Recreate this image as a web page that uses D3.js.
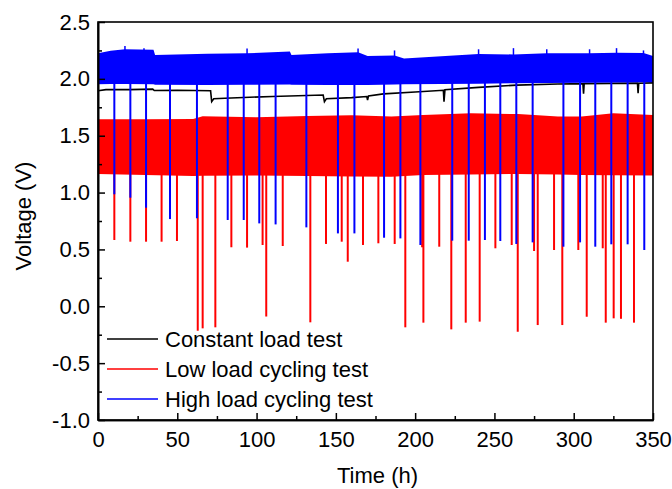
<!DOCTYPE html>
<html>
<head>
<meta charset="utf-8">
<script src="https://cdn.jsdelivr.net/npm/d3@7"></script>
<style>
  body { margin: 0; background: #fff; }
  text { font-family: Arial, "Liberation Sans", sans-serif; fill: #000; }
</style>
</head>
<body>
<svg id="chart"></svg>
<script>
// envelope of the dense low load cycling band (red)
const redTime = [0, 30, 60, 66, 100, 132, 160, 185, 205, 235, 265, 290, 305, 325, 350];
const redTop = [1.645, 1.645, 1.648, 1.672, 1.662, 1.673, 1.68, 1.668, 1.682, 1.697, 1.69, 1.668, 1.67, 1.697, 1.682];
const redBottom = [1.163, 1.155, 1.146, 1.148, 1.15, 1.145, 1.142, 1.14, 1.155, 1.16, 1.163, 1.158, 1.155, 1.152, 1.15];

// envelope of the high load cycling band (blue)
const blueTime = [0, 8, 17, 35, 36, 69, 94, 121, 122, 145, 164, 170, 187, 193, 240, 262, 283, 310, 327, 344, 350];
const blueTop = [2.225, 2.248, 2.26, 2.255, 2.21, 2.22, 2.225, 2.24, 2.21, 2.225, 2.235, 2.2, 2.205, 2.18, 2.218, 2.215, 2.225, 2.225, 2.23, 2.228, 2.2];
const blueBottom = [1.952, 1.955, 1.955, 1.952, 1.948, 1.945, 1.948, 1.95, 1.948, 1.945, 1.945, 1.945, 1.95, 1.952, 1.958, 1.962, 1.963, 1.965, 1.967, 1.97, 1.97];
const bluePeakTime = [17, 29, 94, 164, 187, 240, 262, 283, 310, 327, 344];
const bluePeakV = [2.29, 2.27, 2.268, 2.268, 2.25, 2.26, 2.27, 2.26, 2.26, 2.27, 2.25];

// downward spikes (time, minimum voltage)
const blueSpikeTime = [10.3, 20.4, 30.3, 45.4, 62.4, 81.8, 91.9, 101.7, 112, 131.4, 151.3, 161.7, 180.4, 190.7, 203.3, 223.4, 233.8, 244, 253.7, 263.8, 274.1, 293.5, 304, 313.6, 323.7, 334, 344.5];
const blueSpikeV = [0.985, 0.955, 0.867, 0.767, 0.774, 0.759, 0.759, 0.729, 0.72, 0.694, 0.641, 0.641, 0.603, 0.597, 0.539, 0.577, 0.577, 0.583, 0.574, 0.548, 0.562, 0.524, 0.562, 0.524, 0.545, 0.545, 0.495];
const redSpikeTime = [10.3, 20.4, 30.3, 40.1, 49.8, 62.9, 66, 74, 84.1, 94, 103.8, 106.1, 116.5, 133.9, 143.8, 153.7, 157.5, 167.1, 176.8, 187.1, 193.8, 204.4, 205.2, 215.2, 222.8, 231.9, 240.7, 250.6, 260.9, 264.7, 275, 277.3, 287.6, 292.8, 302.9, 308.2, 318.3, 320.2, 325.2, 329.8, 338];
const redSpikeV = [0.583, 0.568, 0.568, 0.568, 0.574, -0.215, -0.194, -0.185, 0.519, 0.516, 0.539, -0.09, 0.53, -0.141, 0.548, 0.568, 0.392, 0.539, 0.554, 0.548, -0.185, 0.519, -0.144, 0.524, -0.203, -0.144, -0.135, 0.51, 0.539, -0.224, 0.486, -0.165, 0.495, -0.165, 0.495, -0.092, 0.51, -0.144, -0.106, -0.11, -0.144];

// constant load test (black)
const constTime = [0, 5, 20, 34.5, 35.5, 50, 71, 71.7, 73, 80, 110, 142, 142.8, 144, 160, 169.5, 170, 170.6, 180, 200, 217.8, 218.2, 218.8, 240, 264, 290, 305.8, 306.2, 306.6, 340.2, 340.6, 341, 350];
const constV = [1.895, 1.905, 1.905, 1.91, 1.897, 1.9, 1.895, 1.80, 1.825, 1.83, 1.845, 1.858, 1.80, 1.825, 1.835, 1.845, 1.814, 1.85, 1.868, 1.885, 1.9, 1.80, 1.905, 1.925, 1.945, 1.955, 1.958, 1.87, 1.958, 1.962, 1.873, 1.962, 1.965];

const xTicks = [0, 50, 100, 150, 200, 250, 300, 350];
const yTicks = [-1.0, -0.5, 0.0, 0.5, 1.0, 1.5, 2.0, 2.5];
const legendLabels = ["Constant load test", "Low load cycling test", "High load cycling test"];
const legendColors = ["#000000", "#ff0000", "#0000ff"];

const margin = { top: 22, right: 19, bottom: 69, left: 98 };
const width = 672 - margin.left - margin.right;
const height = 489 - margin.top - margin.bottom;

const svg = d3.select("#chart").attr("width", 672).attr("height", 489);
const g = svg.append("g").attr("transform", `translate(${margin.left},${margin.top})`);

const x = d3.scaleLinear().domain([0, 350]).range([0, width]);
const y = d3.scaleLinear().domain([-1, 2.5]).range([height, 0]);

const clip = svg.append("clipPath").attr("id", "plot").append("rect").attr("width", width).attr("height", height);
const plot = g.append("g").attr("clip-path", "url(#plot)");

// black line
const line = d3.line().x((d, i) => x(constTime[i])).y((d) => y(d));
plot.append("path").datum(constV).attr("fill", "none").attr("stroke", "#000").attr("stroke-width", 1.6).attr("d", line);

// red band + spikes
const redArea = d3.area().x((d, i) => x(redTime[i])).y0((d, i) => y(redBottom[i])).y1((d) => y(d));
plot.selectAll(".rs").data(redSpikeTime).join("line")
  .attr("x1", (d) => x(d)).attr("x2", (d) => x(d))
  .attr("y1", y(1.4)).attr("y2", (d, i) => y(redSpikeV[i]))
  .attr("stroke", "#ff0000").attr("stroke-width", 2);
plot.append("path").datum(redTop).attr("fill", "#ff0000").attr("d", redArea);

// blue band + spikes
const blueArea = d3.area().x((d, i) => x(blueTime[i])).y0((d, i) => y(blueBottom[i])).y1((d) => y(d));
plot.append("path").datum(blueTop).attr("fill", "#0000ff").attr("d", blueArea);
plot.selectAll(".bp").data(bluePeakTime).join("line")
  .attr("x1", (d) => x(d)).attr("x2", (d) => x(d))
  .attr("y1", y(2.2)).attr("y2", (d, i) => y(bluePeakV[i]))
  .attr("stroke", "#0000ff").attr("stroke-width", 1.5);
plot.selectAll(".bs").data(blueSpikeTime).join("line")
  .attr("x1", (d) => x(d)).attr("x2", (d) => x(d))
  .attr("y1", y(2.05)).attr("y2", (d, i) => y(blueSpikeV[i]))
  .attr("stroke", "#0000ff").attr("stroke-width", 2);

// frame
g.append("rect").attr("width", width).attr("height", height).attr("fill", "none").attr("stroke", "#000").attr("stroke-width", 1.6);

// axes with inward ticks
const xAxis = g.append("g").attr("transform", `translate(0,${height})`)
  .call(d3.axisBottom(x).tickValues(xTicks).tickSizeInner(-7).tickSizeOuter(0).tickPadding(11));
g.append("g").attr("transform", `translate(0,${height})`)
  .call(d3.axisBottom(x).tickValues(d3.range(25, 350, 50)).tickSizeInner(-4).tickSizeOuter(0).tickFormat(""));
const yAxis = g.append("g")
  .call(d3.axisLeft(y).tickValues(yTicks).tickSizeInner(-7).tickSizeOuter(0).tickPadding(8).tickFormat(d3.format(".1f")));
g.append("g")
  .call(d3.axisLeft(y).tickValues(d3.range(-0.75, 2.5, 0.5)).tickSizeInner(-4).tickSizeOuter(0).tickFormat(""));

g.selectAll(".domain").attr("stroke-width", 1.6);
g.selectAll(".tick line").attr("stroke-width", 1.5);
g.selectAll(".tick text").style("font-size", "22px").style("font-family", "Arial, 'Liberation Sans', sans-serif");
yAxis.selectAll(".tick text").text((d) => d3.format(".1f")(d).replace("−", "-"));

// axis titles
svg.append("text").attr("x", margin.left + width / 2 + 2).attr("y", 483)
  .attr("text-anchor", "middle").style("font-size", "22px").text("Time (h)");
svg.append("text").attr("transform", `translate(31,${margin.top + height / 2 - 5}) rotate(-90)`)
  .attr("text-anchor", "middle").style("font-size", "22px").text("Voltage (V)");

// legend
const legend = g.append("g").attr("transform", "translate(9,317)");
legendLabels.forEach((label, i) => {
  const row = legend.append("g").attr("transform", `translate(0,${i * 30})`);
  row.append("line").attr("x1", 0).attr("x2", 51).attr("stroke", legendColors[i]).attr("stroke-width", 1.6);
  row.append("text").attr("x", 58).attr("dy", "0.35em").style("font-size", "22px").text(label);
});
</script>
</body>
</html>
